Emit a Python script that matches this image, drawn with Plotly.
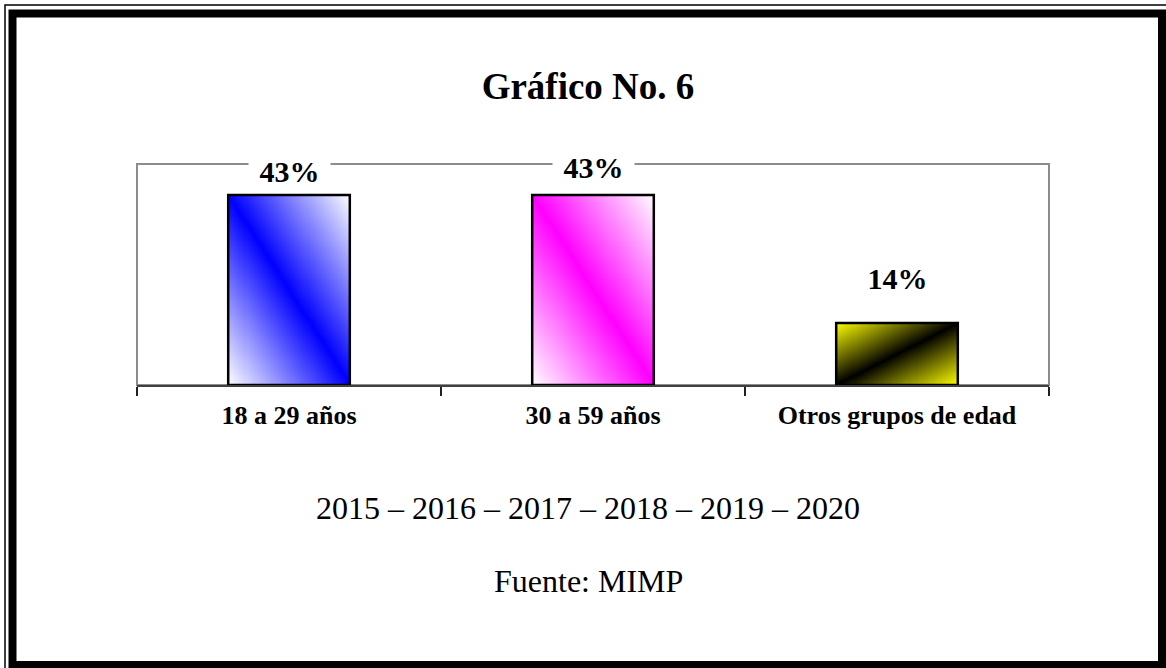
import numpy as np
import plotly.graph_objects as go

# datos
categorias = ["18 a 29 años", "30 a 59 años", "Otros grupos de edad"]
porcentajes = [43, 43, 14]
centro = ["#0000FF", "#FF00FF", "#000000"]     # color en la diagonal
esquina = ["#FFFFFF", "#FFFFFF", "#FFFF00"]    # color en las esquinas
diagonal = ["down", "down", "up"]
titulo = "Gráfico No. 6"
periodo = "2015 – 2016 – 2017 – 2018 – 2019 – 2020"
fuente = "Fuente: MIMP"

SERIF = "Liberation Serif, Times New Roman, serif"
W, H = 1166, 668
ancho = 0.4

fig = go.Figure()

# relleno degradado de cada barra (heatmap dentro del rectangulo de la barra)
for i, v in enumerate(porcentajes):
    n, m = 120, 200
    xs = np.linspace(i - ancho / 2, i + ancho / 2, n + 1)
    ys = np.linspace(0, v, m + 1)
    u = (np.arange(n) + 0.5) / n
    s = (np.arange(m) + 0.5) / m
    U, S = np.meshgrid(u, s)
    if diagonal[i] == "down":
        t = np.abs(U - (1 - S))
    else:
        t = np.abs(U - S)
    fig.add_trace(go.Heatmap(
        x=xs, y=ys, z=t, zmin=0, zmax=1,
        colorscale=[[0, centro[i]], [1, esquina[i]]],
        showscale=False, hoverinfo="skip",
    ))

# contorno de las barras
fig.add_trace(go.Bar(
    x=list(range(len(categorias))), y=porcentajes, width=ancho,
    marker=dict(color="rgba(0,0,0,0)", line=dict(color="black", width=2.5)),
    hoverinfo="skip",
))

# etiquetas de porcentaje
desplaz = [3, 7, 24]
for i, v in enumerate(porcentajes):
    fig.add_annotation(
        x=i, y=v, xref="x", yref="y", text=f"&nbsp;<b>{v}%</b>&nbsp;",
        showarrow=False, yanchor="bottom", yshift=desplaz[i],
        bgcolor="white", borderpad=3,
        font=dict(family=SERIF, size=30, color="black"),
    )

px = lambda p: p / W
py = lambda p: 1 - p / H

# marco doble de la pagina
fig.add_shape(type="rect", xref="paper", yref="paper",
              x0=px(5), x1=px(1175), y0=py(5), y1=py(680),
              line=dict(color="black", width=1.5))
fig.add_shape(type="rect", xref="paper", yref="paper",
              x0=px(12.5), x1=px(1162), y0=py(13.5), y1=py(665),
              line=dict(color="black", width=8))

# borde del area de trazado
fig.add_shape(type="rect", xref="x domain", yref="y domain",
              x0=0, x1=1, y0=0, y1=1, layer="below",
              line=dict(color="#8c8c8c", width=2))

fig.add_annotation(x=px(588), y=py(508), xref="paper", yref="paper",
                   text=periodo, showarrow=False, yanchor="middle",
                   font=dict(family=SERIF, size=32, color="black"))
fig.add_annotation(x=px(588), y=py(581), xref="paper", yref="paper",
                   text=fuente, showarrow=False, yanchor="middle",
                   font=dict(family=SERIF, size=32, color="black"))

fig.update_layout(
    width=W, height=H,
    margin=dict(l=0, r=0, t=0, b=0),
    paper_bgcolor="white", plot_bgcolor="white",
    showlegend=False,
    title=dict(text=f"<b>{titulo}</b>", x=px(588), xanchor="center",
               y=py(86), yanchor="middle",
               font=dict(family=SERIF, size=37, color="black")),
    xaxis=dict(
        domain=[px(137), px(1049)], range=[-0.5, 2.5],
        tickmode="array", tickvals=list(range(len(categorias))),
        ticktext=[f"<b>{c}</b>" for c in categorias],
        ticks="", showgrid=False, zeroline=False,
        showline=True, linecolor="#404040", linewidth=2,
        tickfont=dict(family=SERIF, size=26, color="black"),
        minor=dict(ticks="outside", tick0=-0.5, dtick=1, ticklen=9,
                   tickcolor="#202020", tickwidth=1.5, showgrid=False),
        ticklabelstandoff=6,
    ),
    yaxis=dict(domain=[py(385), py(164)], range=[0, 50], visible=False),
)

fig.write_html("out.html", config={"displayModeBar": False},
               post_script="document.body.style.margin='0';")
